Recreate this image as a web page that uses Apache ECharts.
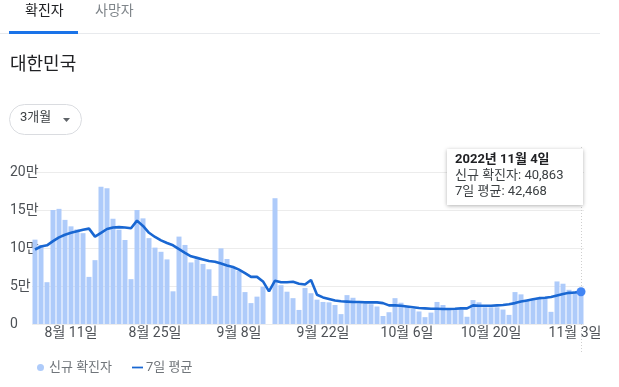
<!DOCTYPE html>
<html><head><meta charset="utf-8">
<script src="https://cdn.jsdelivr.net/npm/echarts@6/dist/echarts.min.js"></script>
<style>html,body{margin:0;padding:0;background:#fff}#c{width:619px;height:387px}</style>
</head><body><div id="c"></div>
<script>
const categories = [
'8월 5일','8월 6일','8월 7일','8월 8일','8월 9일','8월 10일','8월 11일','8월 12일','8월 13일','8월 14일',
'8월 15일','8월 16일','8월 17일','8월 18일','8월 19일','8월 20일','8월 21일','8월 22일','8월 23일','8월 24일',
'8월 25일','8월 26일','8월 27일','8월 28일','8월 29일','8월 30일','8월 31일',
'9월 1일','9월 2일','9월 3일','9월 4일','9월 5일','9월 6일','9월 7일','9월 8일','9월 9일','9월 10일',
'9월 11일','9월 12일','9월 13일','9월 14일','9월 15일','9월 16일','9월 17일','9월 18일','9월 19일','9월 20일',
'9월 21일','9월 22일','9월 23일','9월 24일','9월 25일','9월 26일','9월 27일','9월 28일','9월 29일','9월 30일',
'10월 1일','10월 2일','10월 3일','10월 4일','10월 5일','10월 6일','10월 7일','10월 8일','10월 9일','10월 10일',
'10월 11일','10월 12일','10월 13일','10월 14일','10월 15일','10월 16일','10월 17일','10월 18일','10월 19일','10월 20일',
'10월 21일','10월 22일','10월 23일','10월 24일','10월 25일','10월 26일','10월 27일','10월 28일','10월 29일','10월 30일','10월 31일',
'11월 1일','11월 2일','11월 3일','11월 4일'];

const newCases = [
111000,104000,55000,150000,151500,137000,128500,124500,119500,62000,
84000,180500,178500,138500,124000,110500,59000,150000,139000,113000,
100500,95000,85000,43000,115000,104000,81000,
85000,79000,72000,37000,99500,85500,75000,70000,42000,27500,
36000,49000,null,165500,51000,42500,34000,18500,47500,40500,
32000,29000,28500,25000,13000,38000,34500,27500,26500,26000,
23000,10500,15500,34000,28000,23000,20000,16500,9000,15000,
29000,25000,21000,21000,19000,9500,31500,28500,22000,22000,
22000,19000,12000,42000,39000,31000,33000,35000,35000,16000,
56000,53000,45000,43500,40863];

const avg7 = [
98000,102000,103500,109000,114000,117500,120000,122000,124000,125500,
115000,120000,125000,127000,127500,127000,126000,136000,129000,120000,
114500,110000,106500,103500,98500,93500,89000,
87000,85000,83000,82000,79500,77000,75000,71500,67000,62000,
62000,56000,43000,57000,55000,55000,55500,53000,52000,58000,
38500,35000,33000,31000,30000,29500,29000,29000,28500,28500,
28500,27500,24500,24500,24000,23000,22000,21000,20500,20000,
20000,19700,19700,20000,20500,20500,24500,24000,24000,24000,
24500,25000,26000,27500,29500,31000,32500,34000,34500,35500,
37500,39500,41000,41500,42468];

const tickLabels = ['8월 11일','8월 25일','9월 8일','9월 22일','10월 6일','10월 20일','11월 3일'];
const seriesNames = ['신규 확진자','7일 평균'];
const tooltipLines = ['2022년 11월 4일','신규 확진자: 40,863','7일 평균: 42,468'];

const FONT = 'Roboto, "Noto Sans CJK KR", sans-serif';
const lastIdx = categories.length - 1;

const chart = echarts.init(document.getElementById('c'), null, {renderer:'canvas'});
const option = {
  animation:false,
  textStyle:{fontFamily:FONT},
  grid:{left:32,right:35,top:172,bottom:63},
  xAxis:{
    type:'category', data:categories, boundaryGap:true,
    axisLine:{show:false}, axisTick:{show:false},
    axisLabel:{
      interval:(i,v)=>tickLabels.includes(v),
      color:'#4d5156', fontSize:14, margin:3, fontFamily:FONT
    }
  },
  yAxis:{
    type:'value', min:0, max:200000, interval:50000,
    axisLine:{show:false}, axisTick:{show:false},
    splitLine:{lineStyle:{color:'#ececec',width:1}},
    axisLabel:{
      formatter:v=> v===0 ? '0' : (v/10000)+'만',
      align:'left', margin:22, color:'#4d5156', fontSize:14, fontFamily:FONT
    }
  },
  legend:{
    left:32, top:356, itemWidth:11, itemHeight:7, itemGap:20,
    textStyle:{color:'#70757a', fontSize:13, fontFamily:FONT, padding:[0,0,0,-2]},
    data:[
      {name:seriesNames[0], icon:'circle', itemStyle:{color:'#aecbfa'}},
      {name:seriesNames[1], icon:'path://M0,0h10v1.6h-10z', itemStyle:{color:'#1967d2'}}
    ]
  },
  series:[
    {name:seriesNames[0], type:'bar', data:newCases, barWidth:5,
     itemStyle:{color:'#aecbfa'}},
    {name:seriesNames[1], type:'line', data:avg7.map((v,i)=> i===lastIdx ? {value:v, itemStyle:{color:'#4285f4'}} : v),
     showSymbol:true, showAllSymbol:true, symbol:'circle',
     symbolSize:(v,p)=> p.dataIndex===lastIdx ? 9 : 0,
     lineStyle:{color:'#1967d2', width:2.6}, itemStyle:{color:'#1967d2'}, z:5}
  ]
};
chart.setOption(option);

const px = chart.convertToPixel({xAxisIndex:0}, lastIdx);
chart.setOption({
  graphic:[
    {type:'text', left:25, top:5, style:{text:'확진자', fill:'#202124', font:'14px '+FONT}},
    {type:'text', left:95, top:5, style:{text:'사망자', fill:'#80868b', font:'14px '+FONT}},
    {type:'rect', shape:{x:0,y:33,width:600,height:1}, style:{fill:'#e8eaed'}},
    {type:'rect', shape:{x:9,y:31,width:69,height:3}, style:{fill:'#1a73e8'}},
    {type:'text', left:10, top:57, style:{text:'대한민국', fill:'#202124', font:'18px '+FONT}},
    {type:'rect', shape:{x:9.5,y:104.5,width:72,height:30,r:15}, style:{fill:'#fff', stroke:'#dadce0', lineWidth:1}},
    {type:'text', left:20, top:111, style:{text:'3개월', fill:'#3c4043', font:'13px '+FONT}},
    {type:'polygon', shape:{points:[[63,118],[70,118],[66.5,122]]}, style:{fill:'#5f6368'}},
    {type:'line', shape:{x1:Math.round(px)+0.5,y1:147,x2:Math.round(px)+0.5,y2:352}, style:{stroke:'#cfcfcf', lineWidth:1, lineDash:[1,2]}, z:1},
    {type:'rect', shape:{x:447,y:149,width:136,height:56}, style:{fill:'#fff', shadowBlur:4, shadowColor:'rgba(0,0,0,0.3)', shadowOffsetY:1}, z:10},
    {type:'text', left:455, top:153, style:{text:tooltipLines[0], fill:'#202124', font:'bold 13px '+FONT}, z:11},
    {type:'text', left:455, top:169, style:{text:tooltipLines[1], fill:'#3c4043', font:'13px '+FONT}, z:11},
    {type:'text', left:455, top:185, style:{text:tooltipLines[2], fill:'#3c4043', font:'13px '+FONT}, z:11}
  ]
});
</script></body></html>
